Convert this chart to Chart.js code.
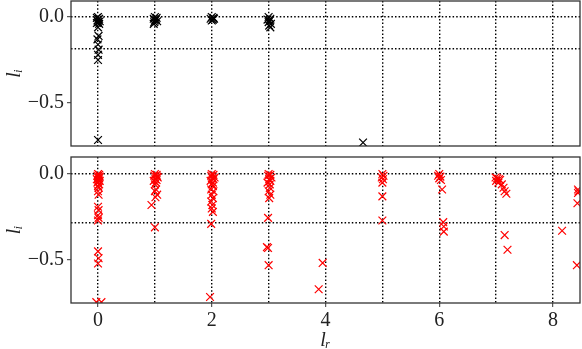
<!DOCTYPE html>
<html lang="en">
<head>
    <meta charset="UTF-8">
    <title>l_i vs l_r</title>
    <script src="https://cdn.jsdelivr.net/npm/chart.js"></script>
    <style>
        body {
            margin: 0;
            background: #fff;
        }
        #wrap {
            position: relative;
            width: 582px;
            height: 349px;
        }
        #top, #bottom {
            position: absolute;
            left: 0;
        }
        #top { top: 0; }
        #bottom { top: 150px; }
    </style>
</head>
<body>
    <div id="wrap">
        <canvas id="top" width="582" height="150"></canvas>
        <canvas id="bottom" width="582" height="199"></canvas>
    </div>
    <script>
        // black points (top panel)
        var blackLr = [0, -0.02, 0.02, 0.01, -0.01, 0.03, 0, -0.02, 0.02, 0, 0.01, -0.01, 0, 0.01, 0, 0, 0,
                       1, 1.03, 0.98, 1.02, 1, 1.04, 0.99, 0.98,
                       2, 2.03, 1.98, 2.02, 2, 2.04,
                       3, 3.03, 2.98, 3.02, 3, 3.04, 3.01, 3.03,
                       4.66];
        var blackLi = [0, -0.005, -0.01, -0.015, -0.02, -0.025, -0.03, -0.035, -0.04, -0.06, -0.11, -0.13, -0.16, -0.19, -0.22, -0.25, -0.715,
                       0, -0.005, -0.01, -0.015, -0.02, -0.025, -0.03, -0.04,
                       0, -0.005, -0.01, -0.015, -0.02, -0.01,
                       0, -0.01, -0.015, -0.02, -0.03, -0.04, -0.05, -0.06,
                       -0.73];

        // red points (bottom panel)
        var redLr = [0, 0.02, -0.01, 0.03, 0, 0.02, -0.02, 0.01, 0.03, 0, -0.01, 0.02, 0, 0.01,
                     0, 0.01, 0, 0.01, 0, 0.01, 0, 0, 0.01, 0, -0.03, 0.06,
                     1, 1.03, 0.99, 1.05, 1.01, 1.03, 0.98, 1.02, 1, 1.04,
                     1.02, 1, 1.04, 1.01, 0.94, 1.0,
                     2, 2.03, 1.99, 2.05, 2.01, 2.03, 1.98, 2.02, 2.0,
                     2.02, 1.99, 2.03, 2.0, 2.02, 1.99, 2.01, 2.0, 2.02, 1.99, 1.97,
                     3, 3.03, 2.99, 3.05, 3.01, 3.03, 2.98, 3.02,
                     3.02, 3.0, 3.03, 3.01, 2.99, 2.97, 2.99, 3.0,
                     3.95, 3.88,
                     5.0, 5.02, 4.99, 5.01, 5.0, 5.0, 5.0,
                     6.0, 5.98, 6.02, 6.0, 6.03, 6.05, 6.07, 6.08, 6.08,
                     6.99, 7.02, 7.05, 7.0, 7.07, 7.04, 7.1, 7.13, 7.15, 7.18, 7.15, 7.2,
                     8.16, 8.44, 8.45, 8.44, 8.43, 8.42];
        var redLi = [0, -0.005, -0.01, -0.015, -0.02, -0.025, -0.03, -0.035, -0.04, -0.045, -0.05, -0.06, -0.07, -0.08,
                     -0.10, -0.12, -0.19, -0.21, -0.24, -0.255, -0.27, -0.45, -0.49, -0.52, -0.745, -0.745,
                     0, -0.005, -0.01, -0.02, -0.03, -0.035, -0.04, -0.05, -0.06, -0.015,
                     -0.09, -0.10, -0.12, -0.135, -0.18, -0.31,
                     0, -0.005, -0.01, -0.02, -0.025, -0.03, -0.04, -0.05, -0.06,
                     -0.07, -0.09, -0.10, -0.12, -0.14, -0.16, -0.18, -0.2, -0.22, -0.29, -0.715,
                     0, -0.005, -0.01, -0.02, -0.03, -0.04, -0.05, -0.06,
                     -0.08, -0.1, -0.12, -0.14, -0.255, -0.425, -0.43, -0.53,
                     -0.517, -0.67,
                     0, -0.01, -0.02, -0.03, -0.05, -0.13, -0.27,
                     0, -0.01, -0.015, -0.025, -0.035, -0.09, -0.28, -0.305, -0.335,
                     -0.02, -0.025, -0.03, -0.04, -0.035, -0.05, -0.06, -0.08, -0.1, -0.115, -0.355, -0.44,
                     -0.33, -0.09, -0.1, -0.11, -0.17, -0.53];

        // horizontal reference lines and axis ticks
        var topRefLine = -0.186;
        var botRefLine = -0.285;
        var xTicks = [0, 1, 2, 3, 4, 5, 6, 7, 8];
        var xLabels = ['0', '', '2', '', '4', '', '6', '', '8'];

        var serif = "'Liberation Serif', 'DejaVu Serif', serif";
        var dots = [1.5, 2.1];

        // Rahmen um die Achsenfläche
        var framePlugin = {
            id: 'frame',
            afterDraw: function(chart) {
                var a = chart.chartArea;
                var ctx = chart.ctx;
                ctx.save();
                ctx.strokeStyle = '#333';
                ctx.lineWidth = 1.3;
                ctx.strokeRect(a.left, a.top, a.right - a.left, a.bottom - a.top);
                ctx.restore();
            }
        };

        function toPoints(xs, ys) {
            return xs.map((x, i) => ({x: x, y: ys[i]}));
        }

        function makeChart(id, xs, ys, color, refLine, showX, padTop, xHeight, yMax) {
            return new Chart(document.getElementById(id), {
                type: 'scatter',
                data: {
                    datasets: [{
                        data: toPoints(xs, ys),
                        pointStyle: 'crossRot',
                        pointRadius: 5.5,
                        pointBorderWidth: 1.2,
                        borderColor: color,
                        backgroundColor: color,
                        clip: 0
                    }]
                },
                options: {
                    responsive: false,
                    animation: false,
                    layout: { autoPadding: false, padding: { top: padTop, right: 2, left: 0, bottom: 0 } },
                    plugins: { legend: { display: false }, tooltip: { enabled: false } },
                    scales: {
                        x: {
                            type: 'linear',
                            min: -0.475,
                            max: 8.475,
                            afterBuildTicks: function(scale) {
                                scale.ticks = xTicks.map(v => ({value: v}));
                            },
                            afterFit: function(scale) {
                                scale.height = xHeight;
                                scale.paddingLeft = 0;
                                scale.paddingRight = 0;
                            },
                            ticks: {
                                display: showX,
                                autoSkip: false,
                                maxRotation: 0,
                                padding: 2,
                                color: '#222',
                                font: { family: serif, size: 20 },
                                callback: function(v) { return xLabels[xTicks.indexOf(v)]; }
                            },
                            grid: {
                                color: '#000',
                                lineWidth: 1.4,
                                drawTicks: showX,
                                tickLength: 4,
                                tickWidth: 1,
                                tickBorderDash: [],
                                tickColor: ctx => (ctx.tick && ctx.tick.value % 2 === 0) ? '#333' : 'rgba(0,0,0,0)'
                            },
                            border: { display: false, dash: dots },
                            title: {
                                display: showX,
                                text: 'lᵣ',
                                color: '#222',
                                padding: 0,
                                font: { family: serif, size: 20, style: 'italic', lineHeight: 0.85 }
                            }
                        },
                        y: {
                            min: -0.75,
                            max: yMax,
                            afterBuildTicks: function(scale) {
                                scale.ticks = [-0.5, refLine, 0].map(v => ({value: v}));
                            },
                            afterFit: function(scale) {
                                scale.width = 71;
                                scale.paddingTop = 0;
                                scale.paddingBottom = 0;
                            },
                            ticks: {
                                autoSkip: false,
                                padding: 3,
                                color: '#222',
                                font: { family: serif, size: 20 },
                                callback: function(v) {
                                    if (v === 0) return '0.0';
                                    if (v === -0.5) return '\u22120.5';
                                    return '';
                                }
                            },
                            grid: {
                                color: ctx => (ctx.tick && ctx.tick.value === -0.5) ? 'rgba(0,0,0,0)' : '#000',
                                lineWidth: 1.4,
                                tickLength: 4,
                                tickWidth: 1,
                                tickBorderDash: [],
                                tickColor: ctx => (ctx.tick && ctx.tick.value === refLine) ? 'rgba(0,0,0,0)' : '#333'
                            },
                            border: { display: false, dash: dots },
                            title: {
                                display: true,
                                text: 'lᵢ',
                                color: '#222',
                                padding: { top: 3, bottom: 0 },
                                font: { family: serif, size: 20, style: 'italic' }
                            }
                        }
                    }
                },
                plugins: [framePlugin]
            });
        }

        makeChart('top', blackLr, blackLi, '#000', topRefLine, false, 1, 4, 0.093);
        makeChart('bottom', redLr, redLi, '#ff0000', botRefLine, true, 7, 46, 0.099);
    </script>
</body>
</html>
